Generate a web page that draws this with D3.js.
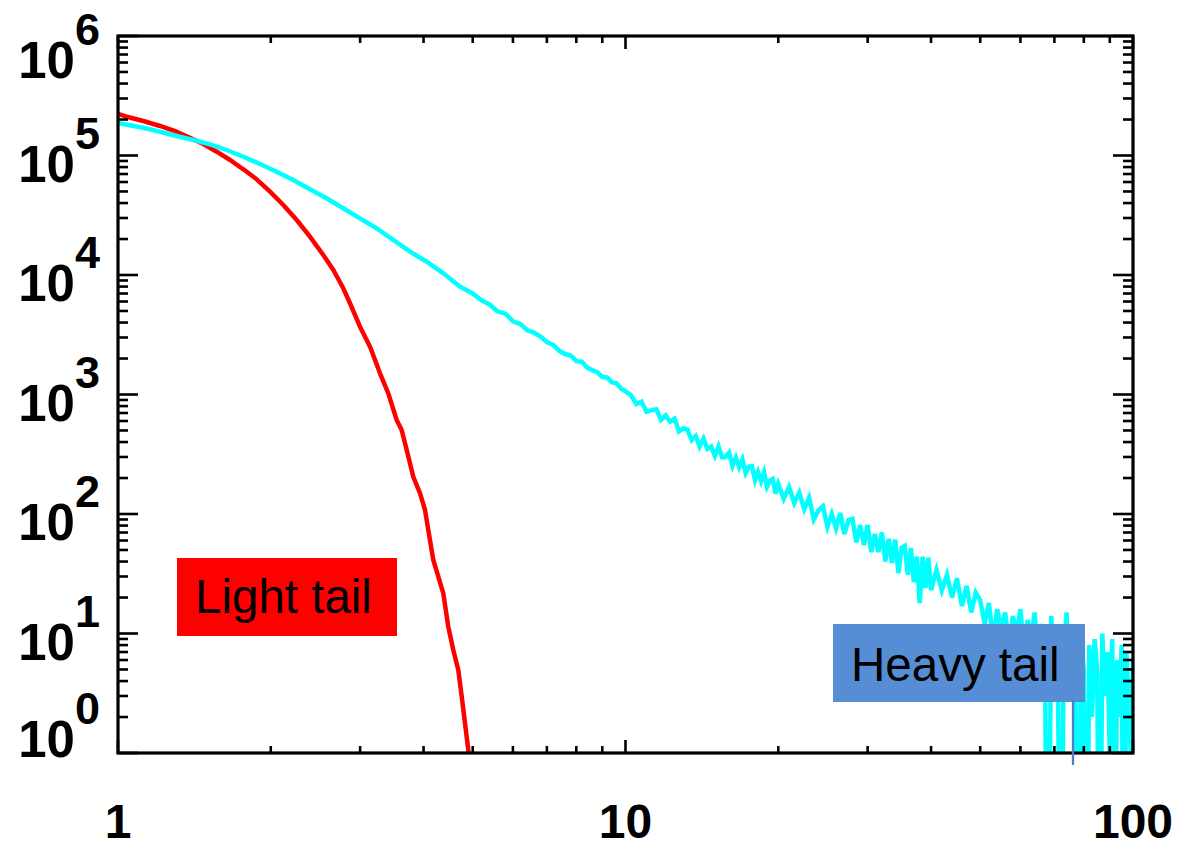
<!DOCTYPE html>
<html><head><meta charset="utf-8">
<script src="https://cdn.jsdelivr.net/npm/d3@7"></script>
<style>body{margin:0;background:#fff}svg{display:block}</style>
</head><body>
<svg id="chart" width="1192" height="848"></svg>
<script>
// ---------- data ----------
const redX = [1.0, 1.04, 1.122, 1.21, 1.305, 1.386, 1.473, 1.565, 1.663, 1.766, 1.876, 1.993, 2.117, 2.25, 2.389, 2.538, 2.657, 2.779, 2.865, 2.998, 3.138, 3.283, 3.409, 3.541, 3.622, 3.706, 3.818, 3.937, 4.027, 4.087, 4.181, 4.277, 4.375, 4.475, 4.578, 4.683, 4.757, 4.828, 4.901, 4.95];
const redY = [222500, 211200, 194400, 176600, 158200, 140900, 124800, 107600, 91700, 76640, 63220, 49800, 38530, 28860, 20920, 14700, 11010, 7739, 5798, 3694, 2512, 1505, 1023, 612, 505, 343, 205, 149, 108, 73.5, 41.2, 29.9, 21.7, 11.4, 7.28, 4.95, 2.96, 1.77, 1.06, 0];

const cyanX = [1.0, 1.04, 1.122, 1.21, 1.305, 1.407, 1.518, 1.637, 1.766, 1.905, 2.054, 2.215, 2.389, 2.577, 2.779, 2.998, 3.234, 3.487, 3.763, 4.058, 4.375, 4.72,
  5.0, 5.2, 5.4, 5.6, 5.8, 6.0, 6.2, 6.4, 6.6, 6.8, 7.0, 7.2, 7.4, 7.6, 7.8, 8.0, 8.2, 8.4, 8.6, 8.8, 9.0, 9.2, 9.4, 9.6, 9.8, 10.0,
  10.25, 10.5, 10.75, 11.0, 11.25, 11.5, 11.75, 12.0, 12.25, 12.5, 12.75, 13.0, 13.25, 13.5, 13.75, 14.0, 14.25, 14.5, 14.75, 15.0,
  15.25, 15.5, 15.75, 16.0, 16.25, 16.5, 16.75, 17.0, 17.25, 17.5, 17.75, 18.0, 18.25, 18.5, 18.75, 19.0, 19.25, 19.5, 19.75, 20.0,
  20.5, 21, 21.5, 22, 22.5, 23, 23.5, 24, 24.5, 25, 25.5, 26, 26.5, 27, 27.5, 28, 28.5, 29, 29.5, 30,
  30.5, 31, 31.5, 32, 32.5, 33, 33.5, 34, 34.5, 35, 35.5, 36, 36.5, 37, 37.5, 38, 38.5, 39, 39.5, 40,
  41, 42, 43, 44, 45, 46, 47, 48, 49, 50, 51, 52, 53, 54, 55, 56, 57, 58, 59, 60,
  61, 62, 63, 64, 65, 66, 67, 68, 69, 70, 71, 72, 73, 74, 75, 76, 77, 78, 79, 80,
  81, 82, 83, 84, 85, 86, 87, 88, 89, 90, 91, 92, 93, 94, 95, 96, 97, 98, 99, 100];
const cyanY = [187000, 181000, 170800, 158200, 145600, 134800, 124100, 111200, 97700, 84900, 73200, 62400, 52150, 43830, 36150, 29810, 24590, 19630, 15670, 12920, 10330, 7983,
  7000, 6150, 5650, 4950, 4750, 4100, 3900, 3450, 3300, 3050, 2750, 2600, 2330, 2180, 2120, 1900, 1880, 1680, 1600, 1540, 1400, 1390, 1260, 1240, 1120, 1060,
  988, 831, 869, 716, 740, 751, 612, 667, 592, 627, 491, 520, 508, 414, 449, 367, 427, 350, 366, 306,
  367, 298, 300, 326, 252, 297, 246, 286, 220, 248, 251, 191, 225, 188, 223, 169, 190, 196, 148, 179,
  134, 168, 123, 151, 110, 137, 90, 107, 116, 78, 100, 76, 102, 68, 89, 91, 58, 81, 55, 81,
  48, 68, 48, 70, 40, 62, 39, 61, 32, 52, 54, 31, 52, 27, 44, 18, 44, 24, 43, 23,
  34, 23, 31, 20, 29, 17, 25, 15, 22, 19, 12, 18, 9, 16, 11, 15, 8, 14, 10, 16,
  7, 13, 9, 15, 6, 12, 8, 0, 14, 5, 11, 0, 6, 15, 3, 9, 4, 0, 10, 5,
  0, 8, 2, 9, 5, 0, 10, 3, 7, 1, 9, 0, 6, 2, 8, 0, 7, 3, 1, 6];

const xTickLabels = ["1", "10", "100"];
const xLabelValues = [1, 10, 100];
const yExponents = [0, 1, 2, 3, 4, 5, 6];
const annotationLabels = ["Light tail", "Heavy tail"];

// ---------- layout ----------
const svg = d3.select("#chart");
const L = 118, R = 1133, T = 36, B = 753;
const x = d3.scaleLog().domain([1, 100]).range([L, R]);
const y = d3.scaleLog().domain([1, 1e6]).range([B, T]);
const font = "'Liberation Sans', Arial, Helvetica, sans-serif";

svg.append("defs").append("clipPath").attr("id", "clip")
  .append("rect").attr("x", L).attr("y", T).attr("width", R - L).attr("height", B - T);

const line = d3.line()
  .x(d => x(d[0]))
  .y(d => y(Math.max(d[1], 0.01)));

const plot = svg.append("g").attr("clip-path", "url(#clip)");
plot.append("path")
  .datum(d3.zip(redX, redY))
  .attr("d", line).attr("fill", "none")
  .attr("stroke", "#ff0000").attr("stroke-width", 4.5).attr("stroke-linejoin", "round");
plot.append("path")
  .datum(d3.zip(cyanX, cyanY))
  .attr("d", line).attr("fill", "none")
  .attr("stroke", "#00ffff").attr("stroke-width", 4.5).attr("stroke-linejoin", "miter");

// ---------- axes ----------
const axes = svg.append("g").attr("stroke", "#000").attr("stroke-width", 2.6);
const xt = x.ticks();
const yt = y.ticks();
const isMajor = v => Math.abs(Math.log10(v) - Math.round(Math.log10(v))) < 1e-9;

axes.selectAll(".xb").data(xt).join("line")
  .attr("x1", d => x(d)).attr("x2", d => x(d))
  .attr("y1", B).attr("y2", d => B - (isMajor(d) ? 13 : 7));
axes.selectAll(".xt").data(xt).join("line")
  .attr("x1", d => x(d)).attr("x2", d => x(d))
  .attr("y1", T).attr("y2", d => T + (isMajor(d) ? 13 : 7));
axes.selectAll(".yl").data(yt).join("line")
  .attr("y1", d => y(d)).attr("y2", d => y(d))
  .attr("x1", L).attr("x2", d => L + (isMajor(d) ? 20 : 10));
axes.selectAll(".yr").data(yt).join("line")
  .attr("y1", d => y(d)).attr("y2", d => y(d))
  .attr("x1", R).attr("x2", d => R - (isMajor(d) ? 20 : 10));

svg.append("rect").attr("x", L).attr("y", T).attr("width", R - L).attr("height", B - T)
  .attr("fill", "none").attr("stroke", "#000").attr("stroke-width", 3.2);

// x labels
svg.selectAll(".xlab").data(xLabelValues).join("text")
  .attr("x", d => x(d)).attr("y", 838)
  .attr("text-anchor", "middle")
  .attr("font-family", font).attr("font-weight", "bold").attr("font-size", 48).attr("fill", "#000")
  .text((d, i) => xTickLabels[i]);

// y labels: 10^n
const yl = svg.selectAll(".ylab").data(yExponents).join("text")
  .attr("x", 100)
  .attr("y", d => Math.min(Math.max(y(Math.pow(10, d)) + 26, 78), 757))
  .attr("text-anchor", "end")
  .attr("font-family", font).attr("font-weight", "bold").attr("font-size", 51).attr("fill", "#000");
yl.append("tspan").text("10");
yl.append("tspan").attr("dy", -33).attr("font-size", 45).text(d => String(d));

// ---------- annotations ----------
svg.append("rect").attr("x", 177).attr("y", 558).attr("width", 220).attr("height", 78).attr("fill", "#ff0000");
svg.append("text").attr("x", 195).attr("y", 613).attr("font-family", font).attr("font-size", 47.5)
  .attr("fill", "#000").text(annotationLabels[0]);

svg.append("rect").attr("x", 833).attr("y", 624).attr("width", 252).attr("height", 78).attr("fill", "#558ed5");
svg.append("text").attr("x", 851).attr("y", 681).attr("font-family", font).attr("font-size", 47.5)
  .attr("fill", "#000").text(annotationLabels[1]);
svg.append("line").attr("x1", 1073).attr("x2", 1073).attr("y1", 700).attr("y2", 765)
  .attr("stroke", "#4f7fbf").attr("stroke-width", 2.3);
</script>
</body></html>
